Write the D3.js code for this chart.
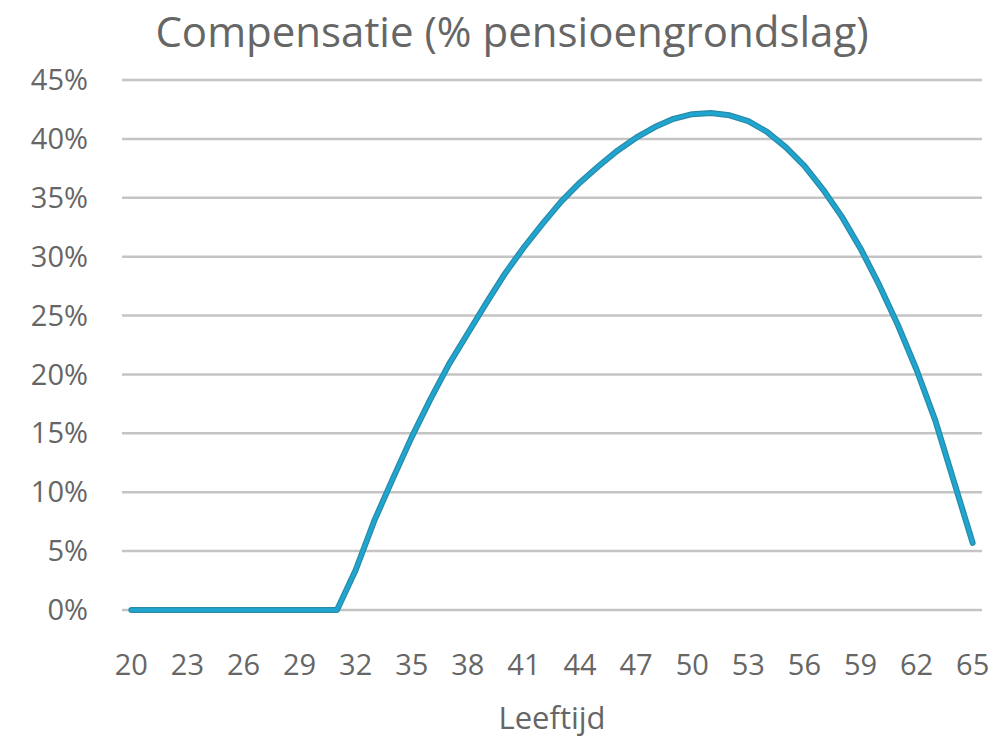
<!DOCTYPE html>
<html lang="nl">
<head>
  <meta charset="UTF-8">
  <title>Compensatie (% pensioengrondslag)</title>
  <script src="https://d3js.org/d3.v7.min.js"></script>
  <style>
    body { margin: 0; background: #fff; font-family: "Open Sans", "DejaVu Sans", sans-serif; }
    .grid line { stroke: #c4c4c4; stroke-width: 2.5px; }
    .tick-label { fill: #666; font-size: 29px; }
    .title { fill: #666; font-size: 42px; }
    .axis-title { fill: #666; font-size: 31px; }
  </style>
</head>
<body>
<svg width="1000" height="737"></svg>
<script>
// ages (category axis) and compensation values in %
const ages = d3.range(20, 66);
const compensatie = [
  0, 0, 0, 0, 0, 0, 0, 0, 0, 0, 0, 0,                    // 20 - 31
  3.4, 7.6, 11.2, 14.7, 17.9, 20.9, 23.5, 26.1, 28.6,    // 32 - 40
  30.8, 32.8, 34.7, 36.3, 37.7, 39.0, 40.1, 41.0, 41.7, 42.1, // 41 - 50
  42.2, 42.0, 41.5, 40.6, 39.3, 37.7, 35.7, 33.4, 30.7, 27.6, // 51 - 60
  24.2, 20.4, 16.1, 10.9, 5.7                            // 61 - 65
];
const yTicks = [0, 5, 10, 15, 20, 25, 30, 35, 40, 45];
const xLabels = d3.range(20, 66, 3);

const svg = d3.select("svg");
const margin = { top: 80, right: 18, bottom: 127, left: 122 };
const width = 1000, height = 737;

const x = d3.scalePoint()
  .domain(ages)
  .range([margin.left, width - margin.right])
  .padding(0.5);

const y = d3.scaleLinear()
  .domain([0, 45])
  .range([height - margin.bottom, margin.top]);

// gridlines
svg.append("g").attr("class", "grid")
  .selectAll("line")
  .data(yTicks)
  .join("line")
  .attr("x1", margin.left)
  .attr("x2", width - margin.right)
  .attr("y1", d => y(d))
  .attr("y2", d => y(d));

// y labels
svg.append("g")
  .selectAll("text")
  .data(yTicks)
  .join("text")
  .attr("class", "tick-label")
  .attr("x", 88)
  .attr("y", d => y(d))
  .attr("dy", "0.35em")
  .attr("text-anchor", "end")
  .text(d => d + "%");

// x labels
svg.append("g")
  .selectAll("text")
  .data(xLabels)
  .join("text")
  .attr("class", "tick-label")
  .attr("x", d => x(d))
  .attr("y", 675)
  .attr("text-anchor", "middle")
  .text(d => d);

// line
const line = d3.line()
  .x((d, i) => x(ages[i]))
  .y(d => y(d));

svg.append("path")
  .datum(compensatie)
  .attr("fill", "none")
  .attr("stroke", "#2a8aa8")
  .attr("stroke-width", 6)
  .attr("stroke-linecap", "round")
  .attr("stroke-linejoin", "round")
  .attr("d", line);

svg.append("path")
  .datum(compensatie)
  .attr("fill", "none")
  .attr("stroke", "#1fa6d0")
  .attr("stroke-width", 3.5)
  .attr("stroke-linecap", "round")
  .attr("stroke-linejoin", "round")
  .attr("d", line);

// titles
svg.append("text")
  .attr("class", "title")
  .attr("x", 512)
  .attr("y", 47)
  .attr("text-anchor", "middle")
  .text("Compensatie (% pensioengrondslag)");

svg.append("text")
  .attr("class", "axis-title")
  .attr("x", (margin.left + width - margin.right) / 2)
  .attr("y", 729)
  .attr("text-anchor", "middle")
  .text("Leeftijd");
</script>
</body>
</html>
